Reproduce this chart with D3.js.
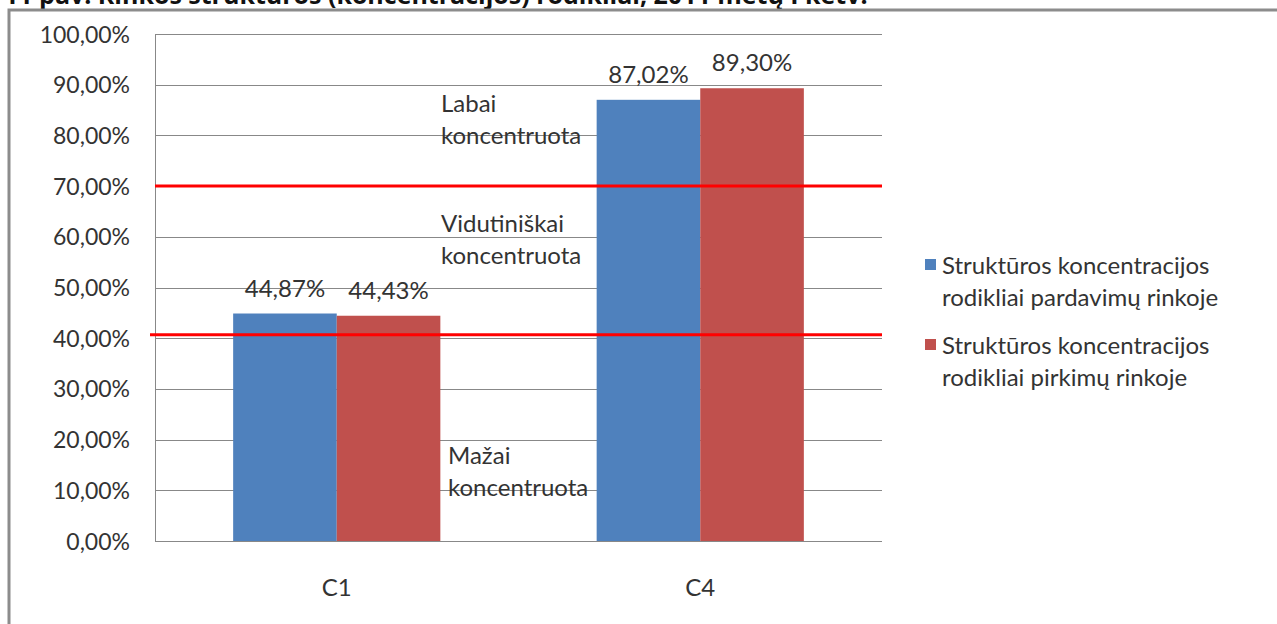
<!DOCTYPE html>
<meta charset="utf-8">
<style>
body { margin: 0; background: #fff; }
text { font-family: Lato, "Open Sans", sans-serif; fill: #333; }
.title { font: bold 25px "Open Sans", sans-serif; fill: #111; }
.tick text { font-size: 23px; }
.zone { font-size: 24px; fill: #333; }
</style>
<body>
<script src="https://cdn.jsdelivr.net/npm/d3@7"></script>
<script>

var categories = ["C1", "C4"];
var seriesNames = ["Struktūros koncentracijos rodikliai pardavimų rinkoje",
                   "Struktūros koncentracijos rodikliai pirkimų rinkoje"];
var sales = [44.87, 87.02];
var purchases = [44.43, 89.30];
var yTicks = [0, 10, 20, 30, 40, 50, 60, 70, 80, 90, 100];
var thresholds = [70, 40.7];
var zoneLabels = [
  { lines: ["Labai", "koncentruota"], at: 84.6 },
  { lines: ["Vidutiniškai", "koncentruota"], at: 61 },
  { lines: ["Mažai", "koncentruota"], at: 15.2 }
];
var colors = ["#4F81BD", "#C0504D"];

var width = 1277, height = 624;
var plotLeft = 155, plotRight = 882, plotTop = 34, plotBottom = 541;

var svg = d3.select("body").append("svg")
    .attr("width", width)
    .attr("height", height);

// title, cut off at the top as in the page scan
svg.append("text")
    .attr("class", "title")
    .attr("x", 4)
    .attr("y", 4)
    .text("11 pav. Rinkos struktūros (koncentracijos) rodikliai, 2011 metų I ketv.");

// chart frame
svg.append("rect")
    .attr("x", 9).attr("y", 10)
    .attr("width", width + 10).attr("height", height + 10)
    .attr("fill", "none")
    .attr("stroke", "#8c8c8c")
    .attr("stroke-width", 3);

var y = d3.scaleLinear().domain([0, 100]).range([plotBottom, plotTop]);
var x0 = d3.scaleBand().domain(categories).range([plotLeft, plotRight]).paddingInner(0).paddingOuter(0);
var x1 = d3.scaleBand().domain([0, 1]).range([0, x0.bandwidth() * 0.57]);
var groupOffset = (x0.bandwidth() - x1.range()[1]) / 2;

// grid
svg.append("g")
  .selectAll("line")
  .data(yTicks)
  .join("line")
    .attr("x1", plotLeft).attr("x2", plotRight)
    .attr("y1", function(d) { return Math.round(y(d)) + 0.5; })
    .attr("y2", function(d) { return Math.round(y(d)) + 0.5; })
    .attr("stroke", "#888");

svg.append("line")
    .attr("x1", plotLeft + 0.5).attr("x2", plotLeft + 0.5)
    .attr("y1", plotTop).attr("y2", plotBottom)
    .attr("stroke", "#888");

// y axis
var yAxis = svg.append("g")
    .attr("transform", "translate(" + (plotLeft - 22) + ",0)")
    .call(d3.axisLeft(y).tickValues(yTicks).tickSize(0)
      .tickFormat(function(d) { return d3.format(".2f")(d).replace(".", ",") + "%"; }));
yAxis.select(".domain").remove();
yAxis.selectAll("text").attr("dy", "0.35em");

// x axis labels
var xAxis = svg.append("g")
    .attr("transform", "translate(0," + (plotBottom + 35) + ")")
    .call(d3.axisBottom(x0).tickSize(0));
xAxis.select(".domain").remove();
xAxis.selectAll("text").style("font-size", "24px");

// bars
var rows = categories.map(function(c, i) { return { cat: c, vals: [sales[i], purchases[i]] }; });
var groups = svg.append("g")
  .selectAll("g")
  .data(rows)
  .join("g")
    .attr("transform", function(d) { return "translate(" + (x0(d.cat) + groupOffset) + ",0)"; });

groups.selectAll("rect")
  .data(function(d) { return d.vals; })
  .join("rect")
    .attr("x", function(d, i) { return x1(i); })
    .attr("width", x1.bandwidth())
    .attr("y", function(d) { return y(d); })
    .attr("height", function(d) { return plotBottom - y(d); })
    .attr("fill", function(d, i) { return colors[i]; });

groups.selectAll("text.val")
  .data(function(d) { return d.vals; })
  .join("text")
    .attr("class", "val")
    .attr("x", function(d, i) { return x1(i) + x1.bandwidth() / 2; })
    .attr("y", function(d) { return y(d) - 17; })
    .attr("text-anchor", "middle")
    .style("font-size", "24px")
    .text(function(d) { return d3.format(".2f")(d).replace(".", ",") + "%"; });

// threshold lines
svg.append("g")
  .selectAll("line")
  .data(thresholds)
  .join("line")
    .attr("x1", function(d, i) { return i ? plotLeft - 5 : plotLeft; })
    .attr("x2", plotRight)
    .attr("y1", function(d) { return y(d); })
    .attr("y2", function(d) { return y(d); })
    .attr("stroke", "#ff0000")
    .attr("stroke-width", 3);

// zone labels
var zones = svg.append("g")
  .selectAll("text")
  .data(zoneLabels)
  .join("text")
    .attr("class", "zone")
    .attr("x", function(d, i) { return i == 2 ? 448 : 441; })
    .attr("y", function(d) { return y(d.at); });
zones.selectAll("tspan")
  .data(function(d) { return d.lines; })
  .join("tspan")
    .attr("x", function() { return this.parentNode.getAttribute("x"); })
    .attr("dy", function(d, i) { return i ? 32 : 0; })
    .text(function(d) { return d; });

// legend
var legend = svg.append("g")
  .selectAll("g")
  .data(seriesNames)
  .join("g")
    .attr("transform", function(d, i) { return "translate(925," + (258 + i * 80) + ")"; });

legend.append("rect")
    .attr("y", 1)
    .attr("width", 11).attr("height", 11)
    .attr("fill", function(d, i) { return colors[i]; });

legend.append("text")
    .style("font-size", "24px")
    .attr("x", 17)
    .attr("y", 16)
  .selectAll("tspan")
  .data(function(d) {
    var w = d.split(" ");
    return [w.slice(0, 2).join(" "), w.slice(2).join(" ")];
  })
  .join("tspan")
    .attr("x", 17)
    .attr("dy", function(d, i) { return i ? 32 : 0; })
    .text(function(d) { return d; });

</script>
</body>
